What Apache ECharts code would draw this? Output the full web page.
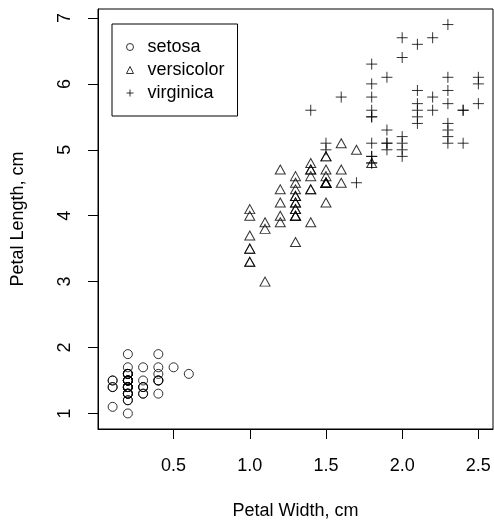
<!DOCTYPE html>
<html>
<head>
<meta charset="UTF-8">
<script src="https://cdn.jsdelivr.net/npm/echarts@6/dist/echarts.min.js"></script>
<style>
  html, body { margin: 0; padding: 0; background: #fff; }
  #paint { width: 494px; height: 520px; }
</style>
</head>
<body>
<div id="paint"></div>
<script>
// iris: petal width / petal length by species
var setosaW = [0.2,0.2,0.2,0.2,0.2,0.4,0.3,0.2,0.2,0.1,0.2,0.2,0.1,0.1,0.2,0.4,0.4,0.3,0.3,0.3,0.2,0.4,0.2,0.5,0.2,0.2,0.4,0.2,0.2,0.2,0.2,0.4,0.1,0.2,0.2,0.2,0.2,0.1,0.2,0.2,0.3,0.3,0.2,0.6,0.4,0.3,0.2,0.2,0.2,0.2];
var setosaL = [1.4,1.4,1.3,1.5,1.4,1.7,1.4,1.5,1.4,1.5,1.5,1.6,1.4,1.1,1.2,1.5,1.3,1.4,1.7,1.5,1.7,1.5,1.0,1.7,1.9,1.6,1.6,1.5,1.4,1.6,1.6,1.5,1.5,1.4,1.5,1.2,1.3,1.4,1.3,1.5,1.3,1.3,1.3,1.6,1.9,1.4,1.6,1.4,1.5,1.4];
var versicolorW = [1.4,1.5,1.5,1.3,1.5,1.3,1.6,1.0,1.3,1.4,1.0,1.5,1.0,1.4,1.3,1.4,1.5,1.0,1.5,1.1,1.8,1.3,1.5,1.2,1.3,1.4,1.4,1.7,1.5,1.0,1.1,1.0,1.2,1.6,1.5,1.6,1.5,1.3,1.3,1.3,1.2,1.4,1.2,1.0,1.3,1.2,1.3,1.3,1.1,1.3];
var versicolorL = [4.7,4.5,4.9,4.0,4.6,4.5,4.7,3.3,4.6,3.9,3.5,4.2,4.0,4.7,3.6,4.4,4.5,4.1,4.5,3.9,4.8,4.0,4.9,4.7,4.3,4.4,4.8,5.0,4.5,3.5,3.8,3.7,3.9,5.1,4.5,4.5,4.7,4.4,4.1,4.0,4.4,4.6,4.0,3.3,4.2,4.2,4.2,4.3,3.0,4.1];
var virginicaW = [2.5,1.9,2.1,1.8,2.2,2.1,1.7,1.8,1.8,2.5,2.0,1.9,2.1,2.0,2.4,2.3,1.8,2.2,2.3,1.5,2.3,2.0,2.0,1.8,2.1,1.8,1.8,1.8,2.1,1.6,1.9,2.0,2.2,1.5,1.4,2.3,2.4,1.8,1.8,2.1,2.4,2.3,1.9,2.3,2.5,2.3,1.9,2.0,2.3,1.8];
var virginicaL = [6.0,5.1,5.9,5.6,5.8,6.6,4.5,6.3,5.8,6.1,5.1,5.3,5.5,5.0,5.1,5.3,5.5,6.7,6.9,5.0,5.7,4.9,6.7,4.9,5.7,6.0,4.8,4.9,5.6,5.8,6.1,6.4,5.6,5.1,5.6,6.1,5.6,5.5,4.8,5.4,5.6,5.1,5.1,5.9,5.7,5.2,5.0,5.2,5.4,5.1];

var xTicks = [0.5, 1.0, 1.5, 2.0, 2.5];
var yTicks = [1, 2, 3, 4, 5, 6, 7];

function pairs(xs, ys) {
    return xs.map(function (x, i) { return [x, ys[i]]; });
}

var FONT = "'Liberation Sans', Arial, Helvetica, sans-serif";
var markStyle = { color: 'transparent', borderColor: '#000', borderWidth: 1 };

var chart = echarts.init(document.getElementById('paint'), null, { renderer: 'canvas' });
chart.setOption({
    animation: false,
    backgroundColor: '#fff',
    textStyle: { fontFamily: FONT, color: '#000' },
    grid: {
        left: 98, right: 1, top: 9, bottom: 91,
        containLabel: false, outerBoundsMode: 'none',
        show: true, borderColor: '#000', borderWidth: 1, backgroundColor: 'transparent'
    },
    legend: {
        orient: 'vertical',
        left: 112, top: 24,
        padding: [14, 13, 14, 14],
        itemGap: 5,
        itemWidth: 7, itemHeight: 7,
        borderColor: '#000', borderWidth: 1,
        itemStyle: { color: 'transparent', borderColor: '#000', borderWidth: 1 },
        textStyle: { fontSize: 18, color: '#000', fontFamily: FONT, padding: [0, 0, 0, 9] },
        data: ['setosa', 'versicolor', 'virginica']
    },
    xAxis: {
        type: 'value',
        min: 0.004, max: 2.596,
        name: 'Petal Width, cm',
        nameLocation: 'middle',
        nameGap: 73,
        nameTextStyle: { fontSize: 18, color: '#000', fontFamily: FONT },
        axisLine: { show: true, onZero: false, lineStyle: { color: '#000', width: 1 } },
        axisTick: { show: true, inside: false, length: 10, customValues: xTicks, lineStyle: { color: '#000' } },
        axisLabel: {
            customValues: xTicks, margin: 28, fontSize: 18, color: '#000', fontFamily: FONT,
            formatter: function (v) { return v.toFixed(1); }
        },
        splitLine: { show: false }
    },
    yAxis: {
        type: 'value',
        min: 0.764, max: 7.136,
        name: 'Petal Length, cm',
        nameLocation: 'middle',
        nameGap: 71,
        nameTextStyle: { fontSize: 18, color: '#000', fontFamily: FONT },
        axisLine: { show: true, onZero: false, lineStyle: { color: '#000', width: 1 } },
        axisTick: { show: true, inside: false, length: 10, customValues: yTicks, lineStyle: { color: '#000' } },
        axisLabel: {
            customValues: yTicks, margin: 24, rotate: 90, fontSize: 18, color: '#000', fontFamily: FONT,
            formatter: function (v) { return String(Math.round(v)); }
        },
        splitLine: { show: false }
    },
    series: [
        {
            name: 'setosa', type: 'scatter',
            symbol: 'circle', symbolSize: 9,
            itemStyle: markStyle,
            data: pairs(setosaW, setosaL)
        },
        {
            name: 'versicolor', type: 'scatter',
            symbol: 'triangle', symbolSize: [10, 9],
            itemStyle: markStyle,
            data: pairs(versicolorW, versicolorL)
        },
        {
            name: 'virginica', type: 'scatter',
            symbol: 'path://M0,5L10,5M5,0L5,10', symbolSize: 11,
            itemStyle: markStyle,
            data: pairs(virginicaW, virginicaL)
        }
    ]
});
</script>
</body>
</html>
